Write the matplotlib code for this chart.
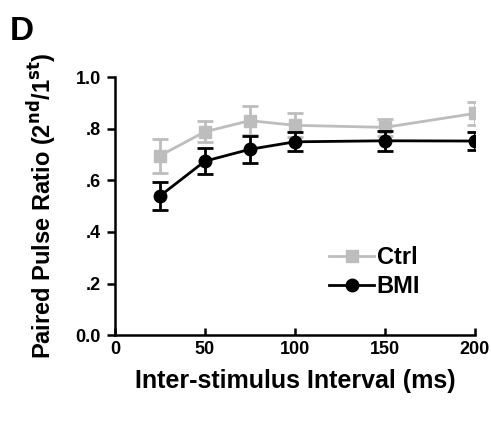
import matplotlib
matplotlib.use("Agg")
import matplotlib.pyplot as plt

plt.rcParams["font.family"] = ["Liberation Sans", "DejaVu Sans"]
plt.rcParams["font.weight"] = "bold"

intervals = [25, 50, 75, 100, 150, 200]
ctrl_mean = [0.695, 0.788, 0.831, 0.813, 0.805, 0.859]
ctrl_err = [0.065, 0.040, 0.055, 0.046, 0.033, 0.044]
bmi_mean = [0.539, 0.674, 0.720, 0.749, 0.753, 0.752]
bmi_err = [0.053, 0.050, 0.052, 0.037, 0.039, 0.035]

x_ticks = [0, 50, 100, 150, 200]
y_ticks = [0.0, 0.2, 0.4, 0.6, 0.8, 1.0]
y_tick_labels = ["0.0", ".2", ".4", ".6", ".8", "1.0"]

ctrl_color = "#bdbdbd"

fig = plt.figure(figsize=(4.91, 4.21), dpi=100)
ax = fig.add_axes([0.234, 0.204, 0.733, 0.613])

# error bars first, then lines with markers (legend uses only the lines)
ax.errorbar(intervals, ctrl_mean, yerr=ctrl_err, fmt="none", ecolor=ctrl_color,
            elinewidth=2, capsize=6, capthick=2, zorder=2)
ax.plot(intervals, ctrl_mean, color=ctrl_color, marker="s", markersize=8,
        linewidth=2, label="Ctrl", zorder=2)
ax.errorbar(intervals, bmi_mean, yerr=bmi_err, fmt="none", ecolor="black",
            elinewidth=2, capsize=6, capthick=2, zorder=3)
ax.plot(intervals, bmi_mean, color="black", marker="o", markersize=9,
        linewidth=2, label="BMI", zorder=3)

ax.set_xlim(0, 200)
ax.set_ylim(0, 1.0)
ax.set_xticks(x_ticks)
ax.set_yticks(y_ticks)
ax.set_yticklabels(y_tick_labels)
for s in ["top", "right"]:
    ax.spines[s].set_visible(False)
for s in ["left", "bottom"]:
    ax.spines[s].set_linewidth(1.8)
ax.tick_params(axis="x", direction="in", length=5, width=1.8, labelsize=13, pad=4)
ax.tick_params(axis="y", direction="out", length=6, width=1.8, labelsize=13, pad=4)
for lbl in ax.get_xticklabels() + ax.get_yticklabels():
    lbl.set_fontweight("bold")

ax.set_xlabel("Inter-stimulus Interval (ms)", fontsize=18, fontweight="bold", labelpad=8)
ax.set_ylabel(r"Paired Pulse Ratio (2$^{\mathbf{nd}}$/1$^{\mathbf{st}}$)", fontsize=17,
              fontweight="bold", labelpad=12)

leg = ax.legend(loc="upper left", bbox_to_anchor=(0.57, 0.38), frameon=False,
                fontsize=17, handlelength=1.9, handletextpad=0.1, labelspacing=0.25,
                borderaxespad=0)
for t in leg.get_texts():
    t.set_fontweight("bold")

fig.text(0.02, 0.905, "D", fontsize=24, fontweight="bold")

fig.savefig("out.png", dpi=100)
